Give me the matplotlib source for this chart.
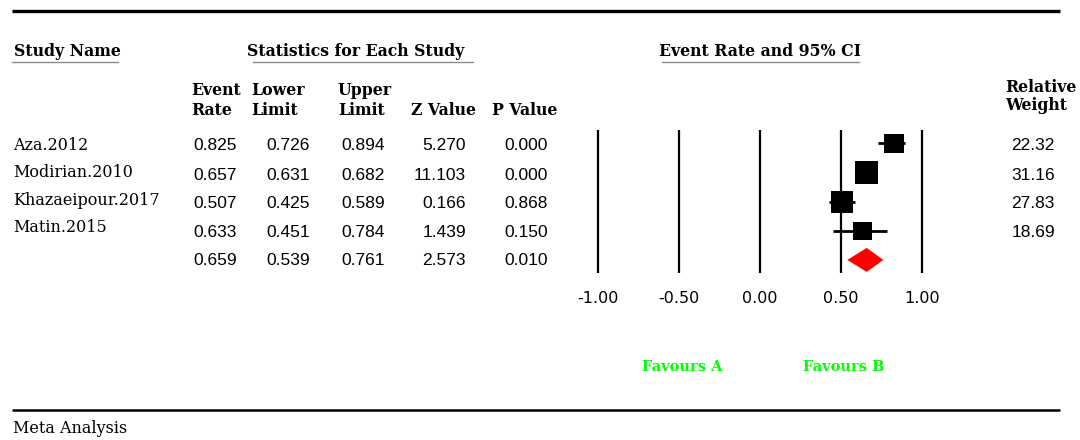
import numpy as np
import matplotlib
matplotlib.use('Agg')
import matplotlib.pyplot as plt
from matplotlib.patches import Polygon

studies    = ["Aza.2012", "Modirian.2010", "Khazaeipour.2017", "Matin.2015"]
event_rate = [0.825, 0.657, 0.507, 0.633]
lower      = [0.726, 0.631, 0.425, 0.451]
upper      = [0.894, 0.682, 0.589, 0.784]
z_value    = [5.270, 11.103, 0.166, 1.439]
p_value    = [0.000, 0.000, 0.868, 0.150]
weights    = [22.32, 31.16, 27.83, 18.69]
summary    = {"rate": 0.659, "lower": 0.539, "upper": 0.761, "z": 2.573, "p": 0.010}
xticks     = [-1.0, -0.5, 0.0, 0.5, 1.0]

W, H = 1080, 440
fig = plt.figure(figsize=(W/100, H/100), dpi=100)
fig.patch.set_facecolor('white')

# full-figure axes in pixel units for the table text and rules
ax0 = fig.add_axes([0, 0, 1, 1])
ax0.set_xlim(0, W)
ax0.set_ylim(H, 0)
ax0.axis('off')

serif = 'DejaVu Serif'
sans = 'Liberation Sans'
hsize = 11.3
nsize = 12.5

# rules
ax0.plot([12, 1060], [11, 11], color='black', lw=2.4, solid_capstyle='butt')
ax0.plot([12, 1060], [410.5, 410.5], color='black', lw=1.8, solid_capstyle='butt')
for x1, x2 in [(12, 118), (253, 473), (662, 859)]:
    ax0.plot([x1, x2], [62, 62], color='#8c8c8c', lw=1.0)

# section headers
ax0.text(14, 56, "Study Name", family=serif, weight='bold', fontsize=hsize, va='baseline')
ax0.text(247, 56, "Statistics for Each Study", family=serif, weight='bold', fontsize=hsize, va='baseline')
ax0.text(760, 56, "Event Rate and 95% CI", family=serif, weight='bold', fontsize=hsize,
         va='baseline', ha='center')

# column headers
col_heads = [("Event", "Rate", 191), ("Lower", "Limit", 251), ("Upper", "Limit", 338),
             ("", "Z Value", 411), ("", "P Value", 492)]
for l1, l2, x in col_heads:
    if l1:
        ax0.text(x, 95, l1, family=serif, weight='bold', fontsize=hsize, va='baseline')
    ax0.text(x, 115, l2, family=serif, weight='bold', fontsize=hsize, va='baseline')
ax0.text(1005, 92, "Relative", family=serif, weight='bold', fontsize=hsize, va='baseline')
ax0.text(1005, 110, "Weight", family=serif, weight='bold', fontsize=hsize, va='baseline')

# table body
num_right = [237, 310, 385, 466, 548]
row_base = [150.5, 179.5, 208.5, 237, 265]
for i, name in enumerate(studies):
    ax0.text(13, 150 + i*27.4, name, family=serif, fontsize=11.5, va='baseline')
    vals = [event_rate[i], lower[i], upper[i], z_value[i], p_value[i]]
    for x, v in zip(num_right, vals):
        ax0.text(x, row_base[i], f"{v:.3f}", family=sans, fontsize=nsize, ha='right', va='baseline')
    ax0.text(1055, row_base[i], f"{weights[i]:.2f}", family=sans, fontsize=nsize, ha='right', va='baseline')
svals = [summary["rate"], summary["lower"], summary["upper"], summary["z"], summary["p"]]
for x, v in zip(num_right, svals):
    ax0.text(x, row_base[4], f"{v:.3f}", family=sans, fontsize=nsize, ha='right', va='baseline')

# favours labels and footer
ax0.text(682, 371, "Favours A", family=serif, weight='bold', fontsize=10.5, color='#00ff00',
         ha='center', va='baseline')
ax0.text(844, 371, "Favours B", family=serif, weight='bold', fontsize=10.5, color='#00ff00',
         ha='center', va='baseline')
ax0.text(13, 433, "Meta Analysis", family=serif, fontsize=11.5, va='baseline')

# forest plot axes, placed so that 0 sits at x=760 px and rows are 29.1 px apart
px0, px1, py0, py1 = 560, 980, 120, 280
unit, zero_px = 162.0, 760.0
row0, dy = 143.5, 29.1
ax = fig.add_axes([px0/W, 1 - py1/H, (px1 - px0)/W, (py1 - py0)/H])
ax.set_xlim((px0 - zero_px)/unit, (px1 - zero_px)/unit)
ax.set_ylim((py1 - row0)/dy, (py0 - row0)/dy)
ax.patch.set_alpha(0)
for s in ax.spines.values():
    s.set_visible(False)
ax.set_yticks([])
ax.set_xticks(xticks)
ax.set_xticklabels([f"{t:.2f}" for t in xticks], family='DejaVu Sans', fontsize=11.5)
ax.tick_params(axis='x', length=0, pad=8)

ax.vlines(xticks, (130 - row0)/dy, (273 - row0)/dy, color='black', lw=1.6)

rows = np.arange(len(studies))
ax.hlines(rows, lower, upper, color='black', lw=2.0, zorder=3)
sizes = (4.2*np.sqrt(weights)*0.72)**2
ax.scatter(event_rate, rows, s=sizes, marker='s', color='black', zorder=4, linewidths=0)

h = 12/dy
r = len(studies)
diamond = Polygon([(summary["lower"], r), (summary["rate"], r - h),
                   (summary["upper"], r), (summary["rate"], r + h)],
                  closed=True, facecolor='#ff0000', edgecolor='none', zorder=4)
ax.add_patch(diamond)

plt.savefig('out.png', dpi=100, facecolor='white')
print("Done.")
